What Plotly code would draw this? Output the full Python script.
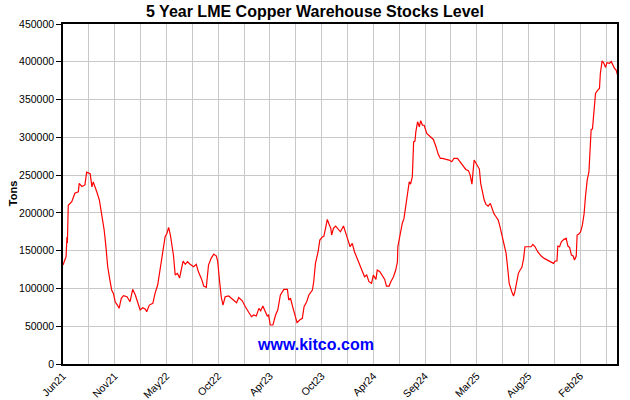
import plotly.graph_objects as go

# trading-day index of each reading (0 = start of Jun 2021)
day = [0, 7, 9, 10, 12, 20, 27, 35, 37, 43, 50, 54, 62, 66, 69, 73, 77, 83, 89, 94,
       98, 102, 107, 111, 115, 119, 124, 128, 133, 138, 146, 153, 159, 165, 170, 176, 182, 188, 191, 197,
       205, 210, 216, 222, 226, 229, 233, 237, 241, 245, 249, 252, 256, 261, 266, 274, 279, 284, 290, 298,
       304, 309, 317, 321, 327, 332, 338, 344, 350, 353, 357, 361, 365, 370, 378, 384, 389, 396, 401, 409,
       416, 424, 430, 435, 441, 447, 451, 456, 460, 466, 469, 473, 479, 485, 490, 496, 504, 512, 515, 519,
       523, 528, 534, 540, 546, 550, 556, 561, 569, 572, 576, 582, 586, 592, 595, 599, 603, 607, 611, 613,
       617, 622, 627, 633, 640, 645, 649, 655, 660, 665, 672, 678, 683, 688, 693, 698, 704, 708, 714, 717,
       723, 729, 734, 738, 744, 748, 754, 759, 763, 764, 769, 774, 778, 782, 786, 790, 793, 797, 800, 803,
       805, 809, 813, 816, 820, 824, 830, 835, 840, 845, 851, 856, 861, 866, 874, 881, 887, 892, 900, 906,
       912, 919, 925, 929, 933, 935, 938, 942, 947, 950, 953, 957, 961, 965, 970, 975, 978, 983, 988, 993,
       997, 1002, 1006, 1011, 1015, 1018, 1024, 1028, 1031, 1035, 1039, 1043, 1047, 1051, 1054, 1061, 1068, 1072, 1077, 1083,
       1091, 1098, 1106, 1114, 1119, 1123, 1127, 1129, 1133, 1137, 1143, 1148, 1152, 1156, 1160, 1164, 1167, 1171, 1173, 1177,
       1181, 1185, 1189, 1192, 1196, 1200, 1202, 1205, 1208, 1211, 1215, 1220, 1224, 1226, 1230, 1234, 1238, 1241, 1247, 1251,
       1255, 1258, 1262, 1266]

# LME copper warehouse stocks, tonnes
stocks = [131000, 142000, 168000, 160000, 210000, 214700, 226000, 228000, 239000, 235000,
          237000, 254000, 252000, 234500, 241000, 233000, 228000, 217000, 197000, 177000,
          155000, 128700, 111000, 98000, 93500, 82400, 78000, 73700, 87000, 90400,
          89000, 82400, 98800, 91300, 82400, 71400, 74500, 72400, 69200, 78000,
          80300, 93500, 104500, 126600, 142000, 155000, 168400, 172800, 180800, 170700,
          155000, 144000, 117700, 120000, 114000, 136300, 132000, 135400, 132000, 128700,
          132000, 122000, 111000, 103200, 101500, 131000, 139800, 145500, 142900, 135400,
          111000, 89000, 78000, 89000, 90000, 87000, 84700, 81000, 88000, 83700,
          75800, 69200, 62600, 64800, 63500, 73700, 70500, 76700, 71400, 63500,
          64800, 51600, 51600, 64800, 71400, 91300, 98800, 98800, 84700, 87000,
          78000, 67000, 54700, 58200, 60400, 75800, 82400, 91300, 97900, 108900,
          133200, 148600, 164000, 168400, 168700, 179500, 191400, 185000, 179500, 170700,
          179500, 182600, 179500, 175000, 182600, 175000, 166200, 155200, 159600, 148600,
          138500, 131000, 122100, 115500, 117700, 108900, 106800, 117700, 112000, 124400,
          122100, 115500, 112000, 103200, 103200, 108900, 115500, 124000, 135000, 155200,
          172800, 186000, 192700, 208000, 228000, 241200, 238000, 247800, 294000, 295000,
          307300, 320600, 314000, 322000, 316200, 316000, 305100, 302000, 299000, 297200,
          287500, 277800, 272100, 272100, 270800, 269900, 267700, 272100, 272100, 267700,
          262000, 257500, 256000, 250000, 238100, 254400, 269900, 266000, 261000, 258000,
          239000, 225800, 217000, 211300, 209000, 212600, 207300, 199300, 194900, 190500,
          181700, 168400, 159600, 146400, 124400, 106800, 95700, 90000, 95700, 106800,
          120000, 124400, 128000, 139800, 155200, 155200, 155200, 158300, 155200, 148600,
          142900, 139800, 137600, 135400, 133200, 136300, 136300, 156100, 155200, 161800,
          165000, 166200, 156100, 154000, 144200, 143000, 137600, 142900, 170700, 172000,
          175000, 183900, 199300, 221400, 243400, 254400, 278700, 310400, 311000, 333800,
          358100, 362500, 364700, 384500, 401300, 398000, 392500, 398900, 398000, 400200,
          394000, 391400, 389000, 381000]

grid_step = 59
x_labels = ["Jun21", "Nov21", "May22", "Oct22", "Apr23", "Oct23",
            "Apr24", "Sep24", "Mar25", "Aug25", "Feb26"]
y_ticks = [0, 50000, 100000, 150000, 200000, 250000, 300000, 350000, 400000, 450000]

tickvals = [i * grid_step for i in range(22)]
ticktext = [x_labels[i // 2] if i % 2 == 0 else "" for i in range(22)]

fig = go.Figure()
fig.add_trace(go.Scatter(x=day, y=stocks, mode="lines",
                         line=dict(color="#ff0000", width=1.2), hoverinfo="skip"))

font_family = "Arial, Liberation Sans, sans-serif"
fig.update_layout(
    width=630, height=400,
    margin=dict(l=63, r=13, t=24, b=36, autoexpand=False),
    paper_bgcolor="white", plot_bgcolor="white",
    showlegend=False,
    font=dict(family=font_family, size=10, color="black"),
    title=dict(text="<b>5 Year LME Copper Warehouse Stocks Level</b>",
               x=0.5, xanchor="center", y=0.972, yanchor="middle",
               font=dict(size=16, family=font_family, color="black")),
    xaxis=dict(range=[0, 1264], tickmode="array", tickvals=tickvals, ticktext=ticktext,
               tickangle=-45, showgrid=True, gridcolor="#c8c8c8", gridwidth=1,
               showline=True, linecolor="black", linewidth=1.5, mirror=True,
               ticks="", zeroline=False, tickfont=dict(size=10.5), automargin=False),
    yaxis=dict(range=[0, 450000], tickmode="array", tickvals=y_ticks,
               ticktext=[str(v) for v in y_ticks],
               showgrid=True, gridcolor="#c8c8c8", gridwidth=1,
               showline=True, linecolor="black", linewidth=1.5, mirror=True,
               ticks="outside", ticklen=5, tickcolor="black", zeroline=False,
               tickfont=dict(size=10.5), automargin=False),
    annotations=[
        dict(text="<b>Tons</b>", xref="paper", yref="paper", x=-0.09, y=0.5,
             xanchor="center", yanchor="middle",
             textangle=-90, showarrow=False, font=dict(size=11, color="black")),
        dict(text="<b>www.kitco.com</b>", xref="paper", yref="paper", x=0.455, y=0.056,
             xanchor="center", yanchor="middle",
             showarrow=False, font=dict(size=16, color="#0000ff")),
    ],
)

fig.write_html("out.html")
